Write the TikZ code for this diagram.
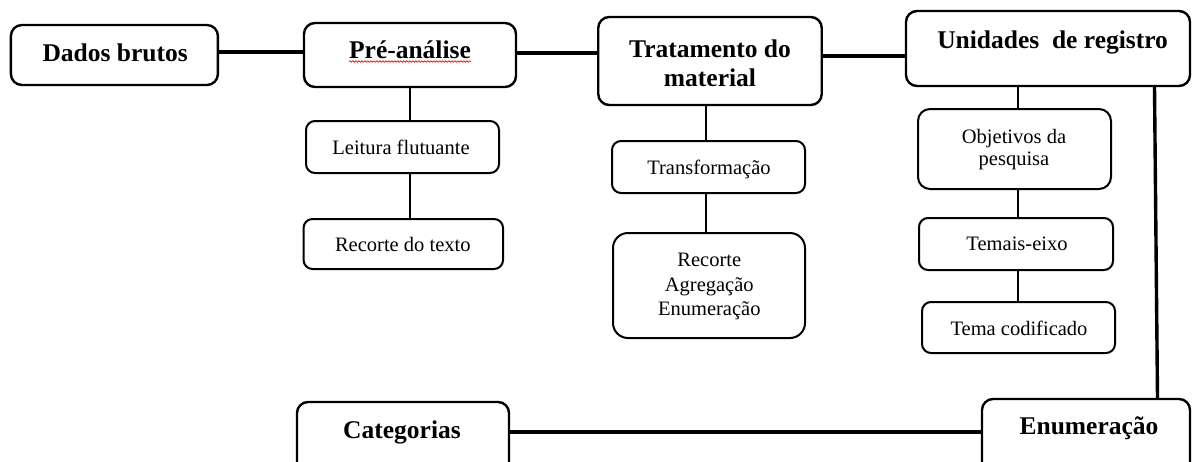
\documentclass[tikz,border=0pt]{standalone}
\usepackage{fontspec}
\setmainfont{Liberation Serif}
\usetikzlibrary{decorations.pathmorphing}
\begin{document}
\begin{tikzpicture}[x=1pt,y=-1pt,
  mainbox/.style={draw, line width=2.4pt, rounded corners=11pt, inner sep=0pt, fill=white},
  subbox/.style={draw, line width=2pt, rounded corners=9pt, inner sep=0pt, fill=white},
  bigtxt/.style={inner sep=0pt, anchor=base, font=\fontsize{25.5}{30}\selectfont\bfseries},
  smalltxt/.style={inner sep=0pt, anchor=base, font=\fontsize{20.5}{24}\selectfont},
  thicklink/.style={line width=3.4pt},
  thinlink/.style={line width=2pt}]
\useasboundingbox (0,0) rectangle (1192,461);
\clip (0,0) rectangle (1192,461);
\fill[white] (0,0) rectangle (1192,461);

% connectors (drawn first, boxes on top)
\coordinate (c1) at (0,52);
\coordinate (c2) at (0,53);
\coordinate (c3) at (0,56);
\coordinate (c4) at (0,432);

% main boxes
\node[mainbox, minimum width=207pt, minimum height=60pt] (dados) at (114.4,55) {};
\node[mainbox, minimum width=212pt, minimum height=64pt] (pre) at (410,55) {};
\node[mainbox, minimum width=223.5pt, minimum height=88pt] (trat) at (710,61) {};
\node[mainbox, minimum width=284pt, minimum height=75pt] (unid) at (1048,48.5) {};
\node[mainbox, minimum width=208pt, minimum height=81pt] (enum) at (1086,439.5) {};
\node[mainbox, minimum width=212pt, minimum height=78pt] (cat) at (403,441) {};

% sub boxes
\node[subbox, minimum width=193pt, minimum height=52pt] (leit) at (402.5,147) {};
\node[subbox, minimum width=199.5pt, minimum height=50pt] (rect) at (403.3,244) {};
\node[subbox, minimum width=193pt, minimum height=52pt] (transf) at (708.5,167) {};
\node[subbox, rounded corners=15pt, minimum width=192pt, minimum height=105pt] (recag) at (709,285.5) {};
\node[subbox, rounded corners=12pt, minimum width=193pt, minimum height=80pt] (obj) at (1014.5,149) {};
\node[subbox, minimum width=194pt, minimum height=52pt] (tem) at (1016,244) {};
\node[subbox, minimum width=193pt, minimum height=51pt] (tcod) at (1018.5,327.5) {};

% horizontal thick connectors
\draw[thicklink] (dados.east |- c1) -- (pre.west |- c1);
\draw[thicklink] (pre.east |- c2) -- (trat.west |- c2);
\draw[thicklink] (trat.east |- c3) -- (unid.west |- c3);
\draw[thicklink] (cat.east |- c4) -- (enum.west |- c4);

% vertical connectors
\coordinate (vp) at (409.5,0);
\draw[thinlink] (pre.south -| vp) -- (leit.north -| vp);
\draw[thinlink] (leit.south -| vp) -- (rect.north -| vp);
\coordinate (vt) at (706,0);
\draw[thinlink] (trat.south -| vt) -- (transf.north -| vt);
\draw[thinlink] (transf.south -| vt) -- (recag.north -| vt);
\coordinate (vu) at (1017.5,0);
\draw[thinlink] (unid.south -| vu) -- (obj.north -| vu);
\draw[thinlink] (obj.south -| vu) -- (tem.north -| vu);
\draw[thinlink] (tem.south -| vu) -- (tcod.north -| vu);
\coordinate (va) at (1154.5,0);
\coordinate (vb) at (1157.5,0);
\draw[thicklink] (unid.south -| va) -- (enum.north -| vb);

% labels
\node[bigtxt] (dados-t) at (115.2,61) {Dados brutos};
\node[bigtxt] (pre-t) at (410,58.5) {Pré-análise};
\draw[red, line width=0.7pt, decorate, decoration={snake, amplitude=0.7pt, segment length=3pt}]
  ([yshift=-3pt]pre-t.base west) -- ([yshift=-3pt]pre-t.base east);
\node[bigtxt] (trat-t1) at (710,57) {Tratamento\ do};
\node[bigtxt] (trat-t2) at (710,86) {material};
\node[bigtxt] (unid-t) at (1052.6,48) {Unidades\ \ de registro};
\node[bigtxt] (enum-t) at (1089,434) {Enumeração};
\node[bigtxt] (cat-t) at (402,438) {Categorias};

\node[smalltxt] (leit-t) at (401,154) {Leitura flutuante};
\node[smalltxt] (rect-t) at (402.8,251.7) {Recorte do texto};
\node[smalltxt] (transf-t) at (709,174) {Transformação};
\node[smalltxt] (recag-t1) at (709.3,266.7) {Recorte};
\node[smalltxt] (recag-t2) at (709.3,291) {Agregação};
\node[smalltxt] (recag-t3) at (709.3,315) {Enumeração};
\node[smalltxt] (obj-t1) at (1014,143.3) {Objetivos da};
\node[smalltxt] (obj-t2) at (1014,165.7) {pesquisa};
\node[smalltxt] (tem-t) at (1017,250) {Temais-eixo};
\node[smalltxt] (tcod-t) at (1019,335) {Tema codificado};
\end{tikzpicture}
\end{document}
